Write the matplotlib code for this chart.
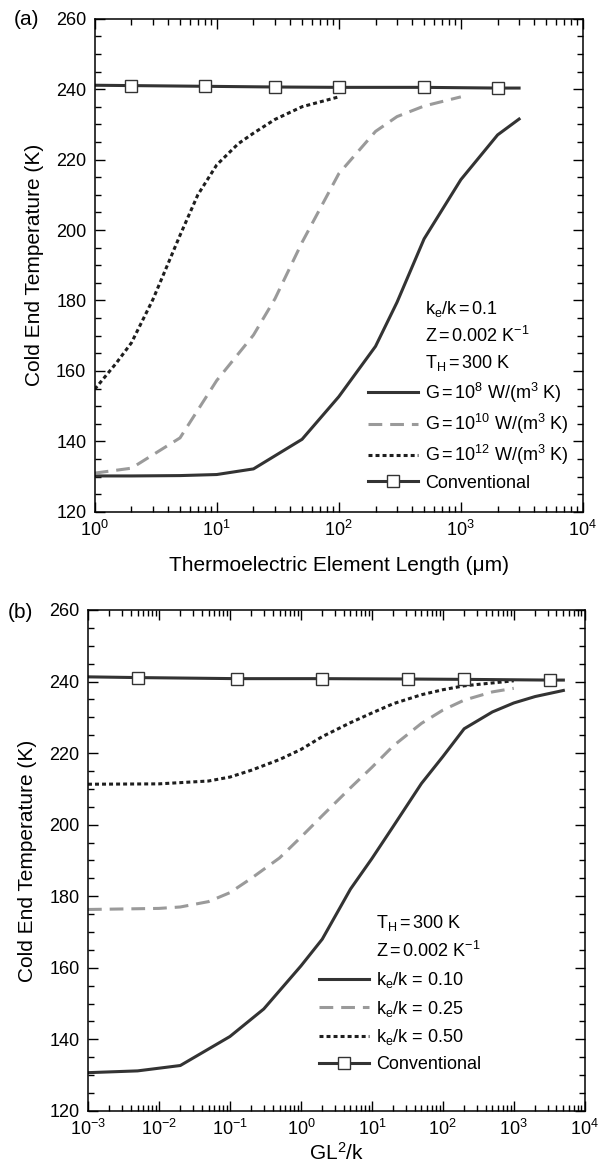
import numpy as np
import matplotlib
matplotlib.use('Agg')
import matplotlib.pyplot as plt
from matplotlib.lines import Line2D
from matplotlib.ticker import LogLocator, MultipleLocator, NullFormatter

plt.rcParams['font.family'] = ['Liberation Sans', 'DejaVu Sans']
plt.rcParams['mathtext.fontset'] = 'custom'
plt.rcParams['mathtext.rm'] = 'Liberation Sans'
plt.rcParams['mathtext.it'] = 'Liberation Sans:italic'
plt.rcParams['mathtext.default'] = 'regular'

# (a) cold end temperature vs element length (um)
len_g8 = [1, 2, 5, 10, 20, 50, 100, 200, 300, 500, 1000, 2000, 3000]
t_g8 = [130.2, 130.2, 130.3, 130.6, 132.2, 140.6, 152.7, 167.0, 179.5, 197.5, 214.3, 227.0, 231.5]
len_g10 = [1, 2, 5, 10, 20, 30, 50, 100, 200, 300, 500, 1000]
t_g10 = [131.0, 132.4, 141.0, 157.3, 170.2, 180.5, 196.5, 216.0, 228.0, 232.2, 235.2, 237.8]
len_g12 = [1, 1.5, 2, 3, 5, 7, 10, 15, 20, 30, 50, 100]
t_g12 = [154.8, 162.2, 168.0, 180.3, 198.5, 210.0, 218.5, 224.5, 227.5, 231.4, 235.0, 237.8]
len_conv = [1, 2, 8, 30, 100, 500, 2000, 3000]
t_conv_a = [241.1, 241.0, 240.8, 240.6, 240.5, 240.5, 240.3, 240.3]

# (b) cold end temperature vs GL^2/k
gl_ke10 = [1e-3, 5e-3, 2e-2, 0.1, 0.3, 1, 2, 5, 10, 20, 50, 100, 200, 500, 1000, 2000, 5000]
t_ke10 = [130.7, 131.2, 132.7, 140.8, 148.5, 160.5, 168.0, 182.0, 190.5, 199.5, 211.5, 219.0, 226.8, 231.5, 234.0, 235.8, 237.5]
gl_ke25 = [1e-3, 0.01, 0.02, 0.05, 0.1, 0.2, 0.5, 1, 2, 5, 10, 20, 50, 100, 200, 500, 1000]
t_ke25 = [176.3, 176.6, 177.0, 178.5, 181.0, 185.0, 190.7, 196.5, 202.5, 210.3, 216.0, 222.0, 228.3, 232.0, 234.8, 237.1, 238.1]
gl_ke50 = [1e-3, 0.01, 0.05, 0.1, 0.2, 0.5, 1, 2, 5, 10, 20, 50, 100, 200, 1000]
t_ke50 = [211.3, 211.4, 212.2, 213.3, 215.2, 218.2, 221.0, 224.6, 228.5, 231.2, 233.8, 236.3, 237.7, 238.8, 240.2]
gl_conv = [1e-3, 5e-3, 0.125, 2, 32, 200, 3200, 5000]
t_conv_b = [241.3, 241.1, 240.8, 240.8, 240.7, 240.6, 240.4, 240.4]

solid_c = '#333333'
dash_c = '#9a9a9a'
dot_c = '#1e1e1e'
lw = 2.2
dashed = (0, (4.5, 2.6))
dotted = (0, (1.3, 1.0))
sp = r'$\,$=$\,$'


def style_axes(ax, xmin, xmax):
    ax.set_xscale('log')
    ax.set_xlim(xmin, xmax)
    ax.set_ylim(120, 260)
    ax.xaxis.set_major_locator(LogLocator(base=10, numticks=20))
    ax.xaxis.set_minor_locator(LogLocator(base=10, subs=np.arange(2, 10), numticks=100))
    ax.xaxis.set_minor_formatter(NullFormatter())
    ax.yaxis.set_major_locator(MultipleLocator(20))
    ax.yaxis.set_minor_locator(MultipleLocator(5))
    ax.tick_params(which='both', direction='in', top=True, right=True, labelsize=13, width=1.0)
    ax.tick_params(which='major', length=7, pad=6)
    ax.tick_params(which='minor', length=4)
    for s in ax.spines.values():
        s.set_linewidth(1.1)
    ax.set_ylabel('Cold End Temperature (K)', fontsize=15, labelpad=9)


def conv_handle():
    return Line2D([], [], color=solid_c, lw=lw, marker='s', ms=8.5, mfc='white', mec=solid_c, mew=1.0)


def blank():
    return Line2D([], [], color='none', lw=0)


fig = plt.figure(figsize=(6.11, 11.66), dpi=100)

# panel (a)
ax1 = fig.add_axes([0.155, 0.561, 0.799, 0.423])
ax1.plot(len_g8, t_g8, color=solid_c, lw=lw)
ax1.plot(len_g10, t_g10, color=dash_c, lw=lw, ls=dashed)
ax1.plot(len_g12, t_g12, color=dot_c, lw=lw, ls=dotted)
ax1.plot(len_conv, t_conv_a, color=solid_c, lw=lw, marker='s', ms=8.5, mfc='white',
         mec=solid_c, mew=1.0, markevery=[1, 2, 3, 4, 5, 6])
style_axes(ax1, 1, 1e4)
ax1.set_xlabel('Thermoelectric Element Length (μm)', fontsize=15, labelpad=11)

h1 = [blank(), blank(), blank(),
      Line2D([], [], color=solid_c, lw=lw),
      Line2D([], [], color=dash_c, lw=lw, ls=dashed),
      Line2D([], [], color=dot_c, lw=lw, ls=dotted),
      conv_handle()]
l1 = [r'k$_e$/k' + sp + '0.1',
      'Z' + sp + r'0.002 K$^{-1}$',
      r'T$_H$' + sp + '300 K',
      'G' + sp + r'10$^8$ W/(m$^3$ K)',
      'G' + sp + r'10$^{10}$ W/(m$^3$ K)',
      'G' + sp + r'10$^{12}$ W/(m$^3$ K)',
      'Conventional']
ax1.legend(h1, l1, loc='upper left', bbox_to_anchor=(0.56, 0.432), frameon=False,
           fontsize=13, handlelength=2.75, handletextpad=0.4, labelspacing=0.4,
           borderpad=0, borderaxespad=0, numpoints=1)

# panel (b)
ax2 = fig.add_axes([0.144, 0.0472, 0.813, 0.4297])
ax2.plot(gl_ke10, t_ke10, color=solid_c, lw=lw)
ax2.plot(gl_ke25, t_ke25, color=dash_c, lw=lw, ls=dashed)
ax2.plot(gl_ke50, t_ke50, color=dot_c, lw=lw, ls=dotted)
ax2.plot(gl_conv, t_conv_b, color=solid_c, lw=lw, marker='s', ms=8.5, mfc='white',
         mec=solid_c, mew=1.0, markevery=[1, 2, 3, 4, 5, 6])
style_axes(ax2, 1e-3, 1e4)
ax2.set_xlabel(r'GL$^2$/k', fontsize=15, labelpad=2)

h2 = [blank(), blank(),
      Line2D([], [], color=solid_c, lw=lw),
      Line2D([], [], color=dash_c, lw=lw, ls=dashed),
      Line2D([], [], color=dot_c, lw=lw, ls=dotted),
      conv_handle()]
l2 = [r'T$_H$' + sp + '300 K',
      'Z' + sp + r'0.002 K$^{-1}$',
      r'k$_e$/k = 0.10',
      r'k$_e$/k = 0.25',
      r'k$_e$/k = 0.50',
      'Conventional']
ax2.legend(h2, l2, loc='upper left', bbox_to_anchor=(0.465, 0.396), frameon=False,
           fontsize=13, handlelength=2.75, handletextpad=0.4, labelspacing=0.48,
           borderpad=0, borderaxespad=0, numpoints=1)

fig.text(0.044, 0.983, '(a)', fontsize=15, ha='center', va='center')
fig.text(0.034, 0.475, '(b)', fontsize=15, ha='center', va='center')

fig.savefig('out.png', dpi=100)
